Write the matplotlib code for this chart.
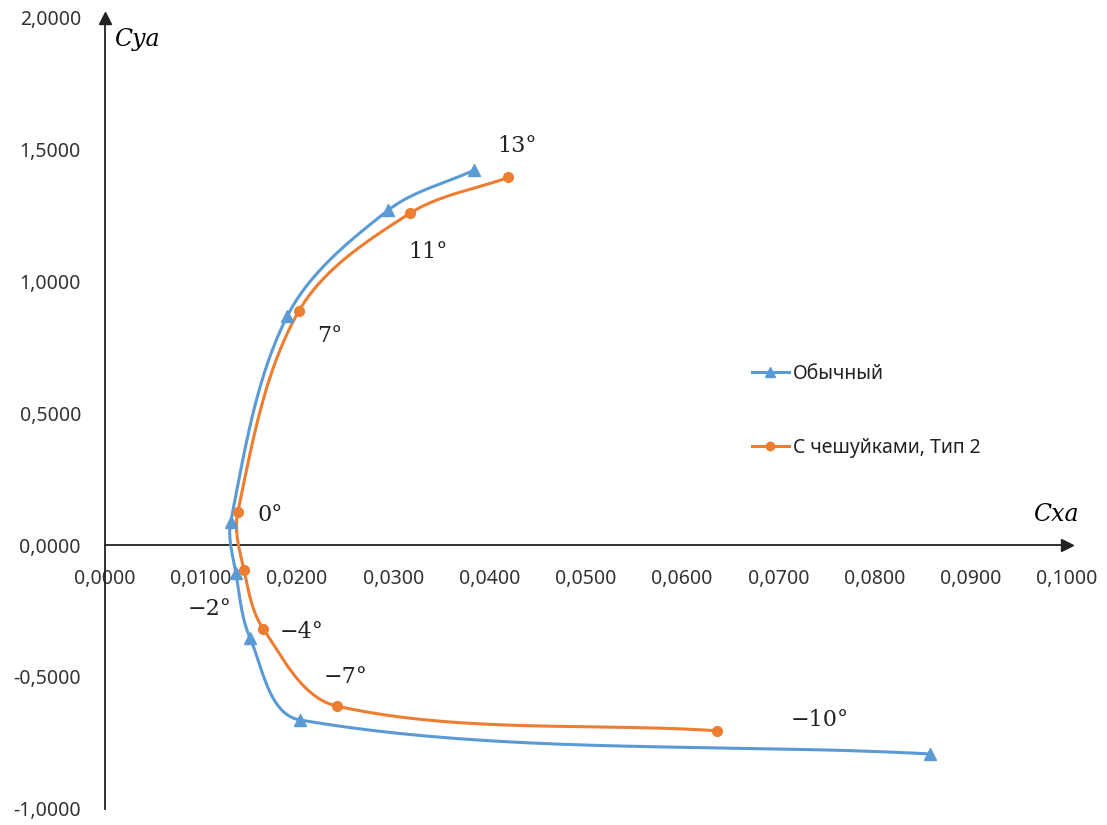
import numpy as np
import matplotlib
matplotlib.use("Agg")
import matplotlib.pyplot as plt
from matplotlib.ticker import FuncFormatter, MultipleLocator

# ---- data ----
angles = ["13°", "11°", "7°", "0°", "−2°", "−4°", "−7°", "−10°"]
cx_plain = [0.03842, 0.02949, 0.01899, 0.01311, 0.01366, 0.01512, 0.02031, 0.08576]
cy_plain = [1.423, 1.271, 0.869, 0.088, -0.107, -0.353, -0.664, -0.793]
cx_scales = [0.04195, 0.03174, 0.02021, 0.01384, 0.01449, 0.01650, 0.02412, 0.06367]
cy_scales = [1.395, 1.259, 0.889, 0.124, -0.095, -0.319, -0.611, -0.705]
series_names = ["Обычный", "С чешуйками, Тип 2"]
label_x = [0.04286, 0.03366, 0.02338, 0.01725, 0.01096, 0.02047, 0.02504, 0.07434]
label_y = [1.514, 1.112, 0.795, 0.112, -0.243, -0.332, -0.501, -0.664]

BLUE = "#5B9BD5"
ORANGE = "#ED7D31"

W, H = 1107, 825
fig = plt.figure(figsize=(W / 100, H / 100), dpi=100)
ax = fig.add_axes([104.5 / W, 16.5 / H, (1067 - 104.5) / W, 790.5 / H])
ax.set_xlim(0, 0.1)
ax.set_ylim(-1, 2)


def smooth_curve(ax, xs, ys, t=0.33, n=40):
    P = ax.transData.transform(np.column_stack([xs, ys]))
    m = len(P)
    out = []
    for i in range(m - 1):
        p0, p3 = P[i], P[i + 1]
        d0 = P[1] - P[0] if i == 0 else P[i + 1] - P[i - 1]
        d1 = P[-1] - P[-2] if i + 1 == m - 1 else P[i + 2] - P[i]
        u0 = d0 / np.linalg.norm(d0)
        u1 = d1 / np.linalg.norm(d1)
        L = np.linalg.norm(p3 - p0)
        p1 = p0 + u0 * L * t
        p2 = p3 - u1 * L * t
        s = np.linspace(0, 1, n)[:, None]
        seg = ((1 - s) ** 3) * p0 + 3 * ((1 - s) ** 2) * s * p1 + 3 * (1 - s) * s ** 2 * p2 + s ** 3 * p3
        out.append(seg if i == 0 else seg[1:])
    pts = np.vstack(out)
    return ax.transData.inverted().transform(pts)


for xs, ys, col, mk, ms, name in [
    (cx_plain, cy_plain, BLUE, "^", 8, series_names[0]),
    (cx_scales, cy_scales, ORANGE, "o", 7, series_names[1]),
]:
    c = smooth_curve(ax, xs, ys)
    ax.plot(c[:, 0], c[:, 1], color=col, lw=2.2, solid_capstyle="round", zorder=3)
    ax.plot(xs, ys, linestyle="none", marker=mk, ms=ms, color=col, zorder=4)
    ax.plot([], [], color=col, lw=2.2, marker=mk, ms=ms - 1, label=name)

serif = "DejaVu Serif"
for txt, lx, ly in zip(angles, label_x, label_y):
    ax.text(lx, ly, txt, ha="center", va="center", fontsize=16, family=serif, color="#222222")

# axes as arrows
for s in ["top", "right"]:
    ax.spines[s].set_visible(False)
ax.spines["left"].set_position(("data", 0))
ax.spines["bottom"].set_position(("data", 0))
for s in ["left", "bottom"]:
    ax.spines[s].set_linewidth(1.3)
    ax.spines[s].set_color("#222222")
ax.plot(1, 0, marker=">", ms=9, color="#222222", transform=ax.get_yaxis_transform(), clip_on=False)
ax.plot(0, 1, marker="^", ms=9, color="#222222", transform=ax.get_xaxis_transform(), clip_on=False)

ax.xaxis.set_major_locator(MultipleLocator(0.01))
ax.yaxis.set_major_locator(MultipleLocator(0.5))
fmt = FuncFormatter(lambda v, p: f"{v:.4f}".replace(".", ",").replace("−", "-"))
ax.xaxis.set_major_formatter(fmt)
ax.yaxis.set_major_formatter(fmt)
ax.tick_params(axis="both", length=0, labelsize=14, labelcolor="#333333")
ax.tick_params(axis="x", pad=17)
ax.tick_params(axis="y", pad=17)
for lab in ax.get_xticklabels() + ax.get_yticklabels():
    lab.set_family("Noto Sans")

ax.text(0.00338, 1.917, "Cya", fontsize=17, family=serif, style="italic", ha="center", va="center")
ax.text(0.0988, 0.114, "Cxa", fontsize=17, family=serif, style="italic", ha="center", va="center")

leg = ax.legend(loc="upper left", bbox_to_anchor=(0.6727, 0.562), frameon=False,
                labelspacing=2.76, handlelength=1.9, handletextpad=0.2,
                borderpad=0, borderaxespad=0, prop={"family": "Noto Sans", "size": 14})
for t in leg.get_texts():
    t.set_color("#222222")

fig.savefig("out.png", dpi=100)
